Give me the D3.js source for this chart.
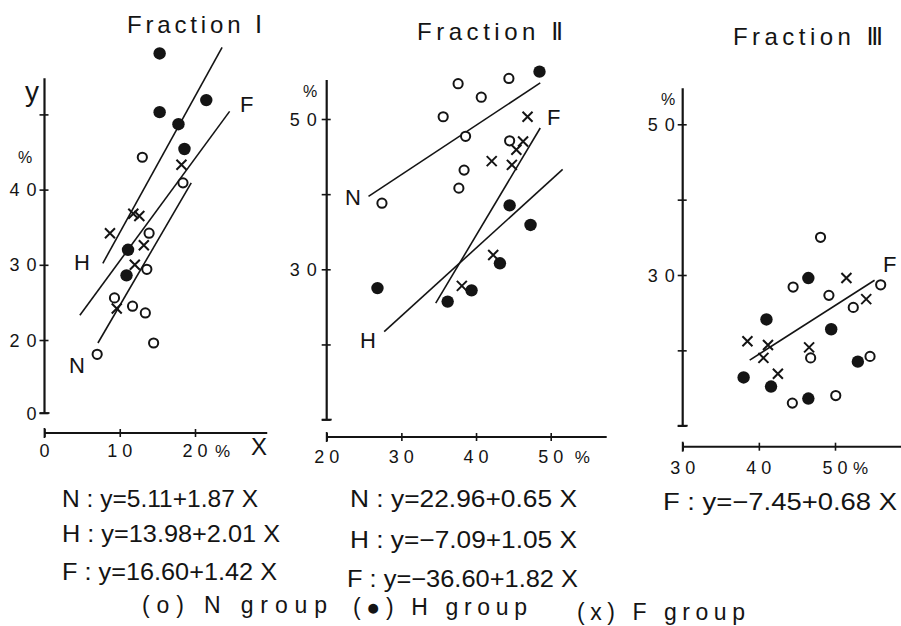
<!DOCTYPE html>
<html><head><meta charset="utf-8">
<script src="https://cdn.jsdelivr.net/npm/d3@7"></script>
<style>
body{margin:0;background:#fff}
svg{display:block;background:#fff}
text{font-family:"Liberation Sans",Arial,"DejaVu Sans",sans-serif;fill:#141414}
</style>
</head><body>
<svg id="chart" width="901" height="626"></svg>
<script>
// ---------------- DATA ----------------
const titles = ["Fraction \u2160", "Fraction \u2161", "Fraction \u2162"];

// Fraction I : [X, y]
const f1N = [[13.0,44.3],[18.4,40.9],[13.9,34.2],[13.6,29.4],[9.3,25.6],[11.7,24.5],[13.4,23.6],[14.5,19.6],[7.0,18.1]];
const f1H = [[15.3,58.1],[15.3,50.3],[21.5,51.9],[17.8,48.7],[18.6,45.4],[11.1,32.0],[10.9,28.6]];
const f1F = [[8.7,34.2],[11.8,36.8],[12.6,36.5],[13.2,32.6],[12.0,30.0],[9.6,24.2],[18.2,43.3]];
const f1LineN = [[7.1,19.6],[19.5,40.9]];
const f1LineH = [[7.75,30.2],[23.6,58.9]];
const f1LineF = [[4.7,23.3],[24.6,50.4]];
const f1XTicks = [0,10,20];
const f1XLabels = ["0","10","20"];
const f1YTicks = [0,20,30,40,50];
const f1YLabels = ["0","20","30","40",""];

// Fraction II
const f2N = [[37.6,54.7],[40.7,52.9],[44.4,55.4],[35.6,50.3],[38.6,47.7],[44.5,47.1],[38.4,43.2],[37.7,40.8],[27.4,38.8]];
const f2H = [[48.5,56.3],[44.5,38.5],[47.3,35.9],[43.2,30.8],[39.4,27.2],[36.2,25.7],[26.8,27.5]];
const f2F = [[46.9,50.3],[46.3,47.0],[45.4,45.9],[44.8,43.9],[42.1,44.4],[42.3,31.9],[38.1,27.8]];
const f2LineN = [[25.6,39.7],[48.6,54.8]];
const f2LineH = [[27.7,21.7],[51.6,43.3]];
const f2LineF = [[34.6,25.5],[48.6,48.8]];
const f2XTicks = [20,30,40,50];
const f2XLabels = ["20","30","40","50"];
const f2YTicks = [10,20,30,40,50];
const f2YLabels = ["","","30","","50"];

// Fraction III
const f3N = [[48.1,35.0],[44.5,28.4],[49.2,27.3],[52.4,25.7],[56.0,28.7],[46.8,19.0],[54.6,19.2],[44.4,13.0],[50.1,14.0]];
const f3H = [[46.5,29.6],[41.0,24.1],[49.5,22.8],[38.0,16.4],[41.6,15.2],[46.5,13.6],[53.0,18.5]];
const f3F = [[38.5,21.2],[41.2,20.7],[40.6,19.0],[42.5,16.9],[46.6,20.4],[51.5,29.6],[54.1,26.8]];
const f3LineF = [[38.8,18.7],[55.2,29.3]];
const f3XTicks = [30,40,50];
const f3XLabels = ["30","40","50"];
const f3YTicks = [10,20,30,40,50];
const f3YLabels = ["","","30","","50"];

const eq1 = ["N : y=5.11+1.87 X", "H : y=13.98+2.01 X", "F : y=16.60+1.42 X"];
const eq2 = ["N : y=22.96+0.65 X", "H : y=\u22127.09+1.05 X", "F : y=\u221236.60+1.82 X"];
const eq3 = ["F : y=\u22127.45+0.68 X"];
const legendLabels = ["(o) N group", "(\u25CF) H group", "(x) F group"];

// ---------------- DRAWING ----------------
const svg = d3.select("#chart");
const ink = "#141414";

function txt(s, x, y, size, len, anchor, adj) {
  const t = svg.append("text").attr("x", x).attr("y", y)
    .attr("font-size", size).text(s);
  if (anchor) t.attr("text-anchor", anchor);
  if (len) t.attr("textLength", len).attr("lengthAdjust", adj || "spacingAndGlyphs");
  return t;
}

function panel(cfg) {
  const g = svg.append("g");
  const x = d3.scaleLinear().domain(cfg.xDom).range(cfg.xRange);
  const y = d3.scaleLinear().domain(cfg.yDom).range(cfg.yRange);

  // y axis
  const ya = g.append("g").attr("transform", `translate(${x(cfg.xDom[0])},0)`)
    .call(d3.axisLeft(y).tickValues(cfg.yTicks).tickSize(5).tickSizeOuter(0).tickFormat(""));
  ya.select(".domain").remove();
  ya.selectAll(".tick line").attr("x1", 4).attr("stroke", ink).attr("stroke-width", 1.6);
  ya.append("line").attr("x1", 0).attr("x2", 0)
    .attr("y1", y(cfg.yExt[0])).attr("y2", y(cfg.yExt[1]))
    .attr("stroke", ink).attr("stroke-width", 2.2);
  ya.append("line").attr("x1", -5).attr("x2", 5)
    .attr("y1", y(cfg.yExt[0])).attr("y2", y(cfg.yExt[0]))
    .attr("stroke", ink).attr("stroke-width", 1.8);

  // x axis
  const xa = g.append("g").attr("transform", `translate(0,${cfg.xAxisY})`)
    .call(d3.axisBottom(x).tickValues(cfg.xTicks).tickSize(4).tickSizeOuter(0).tickFormat(""));
  xa.select(".domain").remove();
  xa.selectAll(".tick line").attr("y1", -4).attr("stroke", ink).attr("stroke-width", 1.6);
  xa.append("line").attr("y1", 0).attr("y2", 0)
    .attr("x1", x(cfg.xExt[0])).attr("x2", x(cfg.xExt[1]))
    .attr("stroke", ink).attr("stroke-width", 2);
  xa.append("line").attr("y1", -5).attr("y2", 5)
    .attr("x1", x(cfg.xExt[0])).attr("x2", x(cfg.xExt[0]))
    .attr("stroke", ink).attr("stroke-width", 1.8);

  // tick labels
  cfg.yTicks.forEach((v, i) => {
    const s = cfg.yLabels[i];
    if (!s) return;
    txt(s, x(cfg.xDom[0]) - cfg.yLabOff, y(v) + 6.5, 18, s.length > 1 ? 27 : 0, "end", "spacing");
  });
  cfg.xTicks.forEach((v, i) => {
    const s = cfg.xLabels[i];
    txt(s, x(v), cfg.xAxisY + cfg.xLabDy, 18, s.length > 1 ? 25 : 0, "middle", "spacing");
  });
  txt("%", x(cfg.xTicks[cfg.xTicks.length - 1]) + cfg.pctDx, cfg.xAxisY + cfg.xLabDy, 17, 0, "start");
  txt("%", cfg.yPct[0], cfg.yPct[1], 16, 0, "middle");

  // regression lines
  cfg.lines.forEach(l => {
    g.append("line")
      .attr("x1", x(l[0][0])).attr("y1", y(l[0][1]))
      .attr("x2", x(l[1][0])).attr("y2", y(l[1][1]))
      .attr("stroke", ink).attr("stroke-width", 1.6);
  });

  // markers
  g.selectAll(null).data(cfg.N).join("circle")
    .attr("cx", d => x(d[0])).attr("cy", d => y(d[1])).attr("r", 4.6)
    .attr("fill", "#fff").attr("stroke", ink).attr("stroke-width", 2);
  g.selectAll(null).data(cfg.H).join("circle")
    .attr("cx", d => x(d[0])).attr("cy", d => y(d[1])).attr("r", 6.2)
    .attr("fill", ink);
  const s = 5;
  g.selectAll(null).data(cfg.F).join("path")
    .attr("d", d => {
      const cx = x(d[0]), cy = y(d[1]);
      return `M${cx - s},${cy - s}L${cx + s},${cy + s}M${cx + s},${cy - s}L${cx - s},${cy + s}`;
    })
    .attr("stroke", ink).attr("stroke-width", 2).attr("fill", "none");

  // line labels
  cfg.lineLabels.forEach(l => txt(l[0], l[1], l[2], 22, 0, "start"));

  // title
  txt(cfg.title, cfg.titlePos[0], cfg.titlePos[1], 24, cfg.titlePos[2], "start", "spacing");
}

panel({
  title: titles[0], titlePos: [127, 33, 135],
  xDom: [0, 20], xRange: [44.5, 195], yDom: [0, 11, 50], yRange: [413, 407.7, 114.4],
  xExt: [0, 29.6], yExt: [0, 54.8], xAxisY: 433,
  xTicks: f1XTicks, xLabels: f1XLabels, yTicks: f1YTicks, yLabels: f1YLabels,
  yLabOff: 8, xLabDy: 24, pctDx: 20, yPct: [25, 163],
  N: f1N, H: f1H, F: f1F, lines: [f1LineN, f1LineH, f1LineF],
  lineLabels: [["H", 74, 270], ["N", 69, 373], ["F", 240, 112]]
});
panel({
  title: titles[1], titlePos: [417, 40, 146],
  xDom: [20, 50], xRange: [326.7, 550.7], yDom: [30, 50], yRange: [269.3, 119],
  xExt: [20, 57.5], yExt: [10, 55.2], xAxisY: 437,
  xTicks: f2XTicks, xLabels: f2XLabels, yTicks: f2YTicks, yLabels: f2YLabels,
  yLabOff: 10, xLabDy: 26, pctDx: 24, yPct: [310, 97],
  N: f2N, H: f2H, F: f2F, lines: [f2LineN, f2LineH, f2LineF],
  lineLabels: [["N", 345, 205], ["H", 360, 348], ["F", 547, 125]]
});
panel({
  title: titles[2], titlePos: [733, 45, 150],
  xDom: [30, 50], xRange: [682.7, 835], yDom: [30, 50], yRange: [275, 124.3],
  xExt: [30, 58.7], yExt: [10, 54.8], xAxisY: 446.7,
  xTicks: f3XTicks, xLabels: f3XLabels, yTicks: f3YTicks, yLabels: f3YLabels,
  yLabOff: 8, xLabDy: 27, pctDx: 18, yPct: [668, 105],
  N: f3N, H: f3H, F: f3F, lines: [f3LineF],
  lineLabels: [["F", 883, 272]]
});

// equations
const eqPos1 = [[62, 507, 196], [62, 542, 218], [62, 580, 215]];
const eqPos2 = [[350, 507, 227], [350, 548, 227], [347, 587, 231]];
const eqPos3 = [[663, 510, 234]];
eq1.forEach((s, i) => txt(s, eqPos1[i][0], eqPos1[i][1], 24, eqPos1[i][2], "start"));
eq2.forEach((s, i) => txt(s, eqPos2[i][0], eqPos2[i][1], 24, eqPos2[i][2], "start"));
eq3.forEach((s, i) => txt(s, eqPos3[i][0], eqPos3[i][1], 24, eqPos3[i][2], "start"));

// legend
const legPos = [[142, 613, 185], [353, 615, 174], [577, 620, 168]];
legendLabels.forEach((s, i) => txt(s, legPos[i][0], legPos[i][1], 23, legPos[i][2], "start", "spacing"));

// axis letters
txt("y", 25, 101, 28, 0, "start");
txt("X", 251, 455, 24, 0, "start");
</script>
</body></html>
